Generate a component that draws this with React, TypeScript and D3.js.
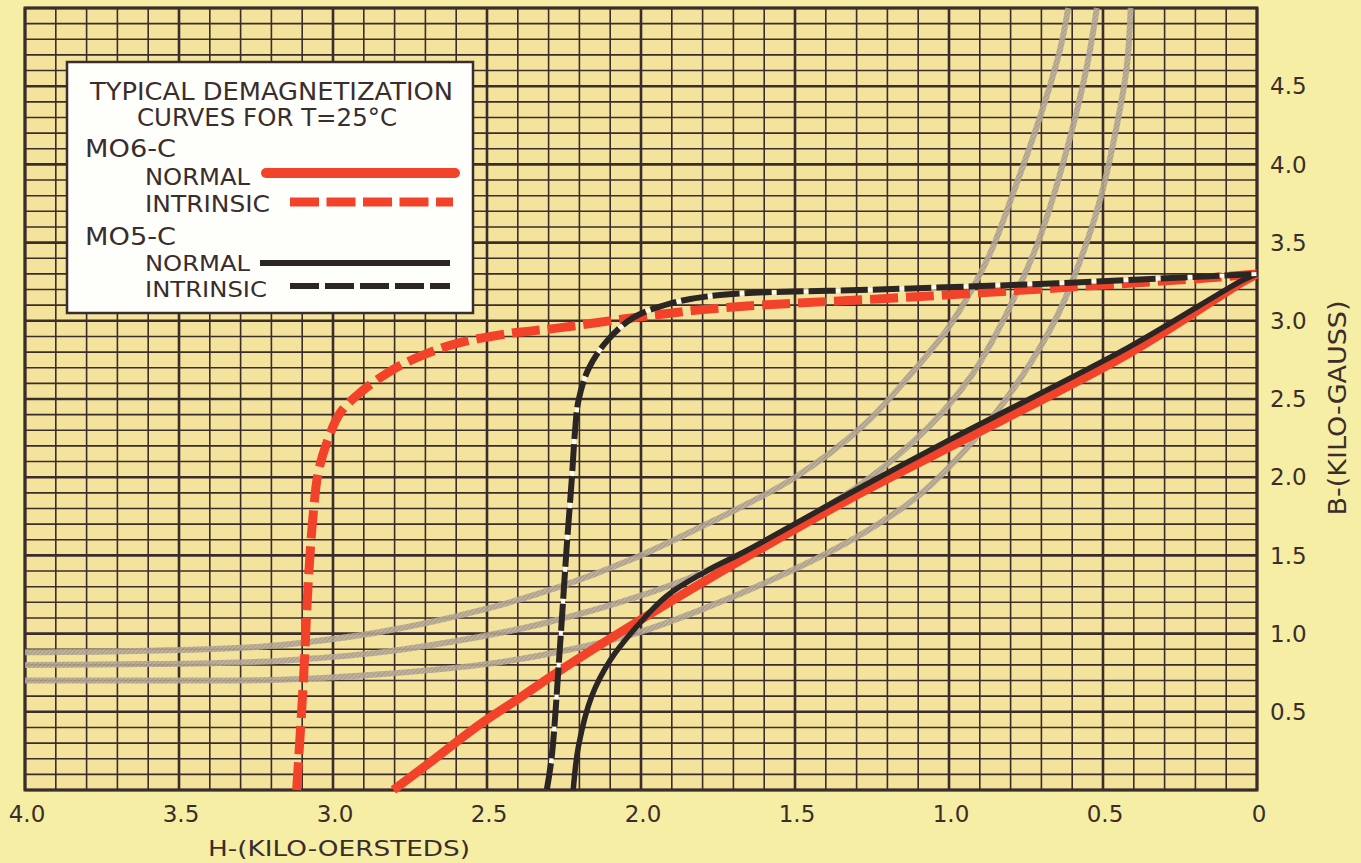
import React from "react";
import * as d3 from "d3";

// ---- Data (H in kilo-oersteds, B in kilo-gauss) ----
const xTickValues = [4.0, 3.5, 3.0, 2.5, 2.0, 1.5, 1.0, 0.5, 0];
const xTickLabels = ["4.0", "3.5", "3.0", "2.5", "2.0", "1.5", "1.0", "0.5", "0"];
const yTickValues = [0.5, 1.0, 1.5, 2.0, 2.5, 3.0, 3.5, 4.0, 4.5];
const yTickLabels = ["0.5", "1.0", "1.5", "2.0", "2.5", "3.0", "3.5", "4.0", "4.5"];

// M06-C normal
const m06Normal: [number, number][] = [
  [2.804, 0], [2.696, 0.16], [2.523, 0.42], [2.393, 0.59], [2.274, 0.75], [2.025, 1.06],
  [1.658, 1.49], [1.31, 1.875], [0.997, 2.195], [0.417, 2.79], [0.046, 3.25], [0, 3.3],
];
// M06-C intrinsic
const m06Intrinsic: [number, number][] = [
  [3.118, 0], [3.096, 0.7], [3.08, 1.34], [3.064, 1.77], [3.048, 2.03], [3.02, 2.22], [2.977, 2.41],
  [2.912, 2.54], [2.804, 2.69], [2.696, 2.79], [2.588, 2.86], [2.425, 2.92], [2.285, 2.95],
  [2.025, 3.02], [1.808, 3.07], [1.614, 3.1], [1.229, 3.14], [0.649, 3.21], [0.12, 3.28], [0, 3.3],
];
// M05-C normal
const m05Normal: [number, number][] = [
  [2.22, 0], [2.203, 0.28], [2.16, 0.6], [2.1, 0.83], [2.025, 1.02], [1.917, 1.24], [1.787, 1.4],
  [1.658, 1.53], [1.31, 1.91], [0.997, 2.24], [0.417, 2.83], [0.046, 3.26], [0, 3.3],
];
// M05-C intrinsic
const m05Intrinsic: [number, number][] = [
  [2.306, 0], [2.29, 0.21], [2.263, 0.92], [2.241, 1.56], [2.225, 1.98], [2.214, 2.3], [2.203, 2.49],
  [2.171, 2.69], [2.111, 2.87], [2.025, 3.02], [1.906, 3.11], [1.744, 3.165], [1.229, 3.2],
  [0.649, 3.24], [0, 3.3],
];
// grey energy-product curves
const energyOuter: [number, number][] = [
  [4.0, 0.88], [3.6, 0.89], [3.237, 0.916], [3.107, 0.94], [2.847, 1.01], [2.5, 1.16], [2.263, 1.3],
  [2.036, 1.47], [1.808, 1.68], [1.507, 1.99], [1.278, 2.33], [1.15, 2.6], [1.008, 2.94],
  [0.926, 3.2], [0.86, 3.46], [0.791, 3.82], [0.705, 4.3], [0.64, 4.73], [0.613, 5.0],
];
const energyMiddle: [number, number][] = [
  [4.0, 0.8], [3.6, 0.805], [3.237, 0.82], [3.107, 0.835], [2.847, 0.88], [2.523, 0.98], [2.328, 1.06],
  [2.036, 1.22], [1.808, 1.385], [1.514, 1.68], [1.289, 1.95], [1.062, 2.33], [0.927, 2.65],
  [0.83, 2.98], [0.76, 3.27], [0.7, 3.56], [0.618, 4.09], [0.553, 4.62], [0.52, 5.0],
];
const energyInner: [number, number][] = [
  [4.0, 0.7], [3.6, 0.7], [3.237, 0.702], [3.107, 0.71], [2.847, 0.74], [2.523, 0.8], [2.328, 0.86],
  [2.036, 0.99], [1.808, 1.15], [1.514, 1.4], [1.289, 1.63], [1.1, 1.88], [0.927, 2.22],
  [0.765, 2.64], [0.649, 3.03], [0.575, 3.38], [0.51, 3.77], [0.456, 4.24], [0.423, 4.62], [0.41, 5.0],
];

const W = 1361;
const HGT = 863;
const INK = "#3a2d2b";
const RED = "#f2432a";
const BLACK = "#2b2524";
const FONT = "'DejaVu Sans', 'Liberation Sans', sans-serif";

export default function App() {
  const x = d3.scaleLinear().domain([4, 0]).range([25, 1257]);
  const y = d3.scaleLinear().domain([0, 5]).range([790, 8]);
  const line = d3
    .line<[number, number]>()
    .x((d) => x(d[0]))
    .y((d) => y(d[1]))
    .curve(d3.curveCatmullRom.alpha(0.5));

  const vGrid = d3.range(0, 41).map((i) => ({ v: i / 10, major: i % 5 === 0 }));
  const hGrid = d3.range(0, 51).map((i) => ({ v: i / 10, major: i % 5 === 0 }));

  return (
    <div style={{ position: "fixed", left: 0, top: 0 }}>
      <svg width={W} height={HGT} style={{ display: "block" }}>
        <defs>
          <pattern id="hatch" width="3" height="3" patternUnits="userSpaceOnUse" patternTransform="rotate(45)">
            <rect width="3" height="3" fill="#b9ac9b" />
            <line x1="0" y1="0" x2="0" y2="3" stroke="#8f8272" strokeWidth="1.2" />
          </pattern>
        </defs>
        <rect x={0} y={0} width={W} height={HGT} fill="#f6eea4" />
        <rect x={x(4)} y={y(5)} width={x(0) - x(4)} height={y(0) - y(5)} fill="#f4e39c" />
        {/* grid */}
        <g>
          {vGrid.map((g, i) => (
            <line key={"v" + i} x1={x(g.v)} x2={x(g.v)} y1={y(0)} y2={y(5)} stroke={INK}
              strokeWidth={g.major ? 2.6 : 1.6} />
          ))}
          {hGrid.map((g, i) => (
            <line key={"h" + i} x1={x(4)} x2={x(0)} y1={y(g.v)} y2={y(g.v)} stroke={INK}
              strokeWidth={g.major ? 2.6 : 1.6} />
          ))}
          <rect x={x(4)} y={y(5)} width={x(0) - x(4)} height={y(0) - y(5)} fill="none" stroke={INK} strokeWidth={3} />
        </g>
        {/* energy product curves */}
        {[energyOuter, energyMiddle, energyInner].map((d, i) => (
          <path key={"e" + i} d={line(d) || ""} fill="none" stroke="url(#hatch)" strokeWidth={6} opacity={0.9} />
        ))}
        {/* M06-C */}
        <path d={line(m06Normal) || ""} fill="none" stroke={RED} strokeWidth={9} />
        <path d={line(m06Intrinsic) || ""} fill="none" stroke={RED} strokeWidth={9} strokeDasharray="28 8" />
        {/* M05-C */}
        <path d={line(m05Normal) || ""} fill="none" stroke={BLACK} strokeWidth={5.5} />
        <path d={line(m05Intrinsic) || ""} fill="none" stroke="#fffdf0" strokeWidth={4} />
        <path d={line(m05Intrinsic) || ""} fill="none" stroke={BLACK} strokeWidth={6} strokeDasharray="27 5" />

        {/* x ticks */}
        {xTickValues.map((v, i) => (
          <text key={"xt" + i} x={x(v) + 2} y={822} textAnchor="middle" fontFamily={FONT} fontSize={23} fill={INK}>
            {xTickLabels[i]}
          </text>
        ))}
        <text x={208} y={856} fontFamily={FONT} fontSize={22} fill={INK} textLength={262} lengthAdjust="spacingAndGlyphs">
          H-(KILO-OERSTEDS)
        </text>
        {/* y ticks */}
        {yTickValues.map((v, i) => (
          <text key={"yt" + i} x={1270} y={y(v)} dy="0.36em" fontFamily={FONT} fontSize={23} fill={INK}>
            {yTickLabels[i]}
          </text>
        ))}
        <text transform="translate(1346,408) rotate(-90)" textAnchor="middle" fontFamily={FONT} fontSize={24}
          fill={INK} textLength={215} lengthAdjust="spacingAndGlyphs">
          B-(KILO-GAUSS)
        </text>

        {/* legend */}
        <g>
          <rect x={67} y={62} width={406} height={251} fill="#fefefb" stroke={INK} strokeWidth={2.5} />
          <text x={90} y={100} fontFamily={FONT} fontSize={24} fill={INK} textLength={363} lengthAdjust="spacingAndGlyphs">
            TYPICAL DEMAGNETIZATION
          </text>
          <text x={137} y={126} fontFamily={FONT} fontSize={24} fill={INK} textLength={260} lengthAdjust="spacingAndGlyphs">
            CURVES FOR T=25°C
          </text>
          <text x={85} y={157} fontFamily={FONT} fontSize={24} fill={INK} textLength={91} lengthAdjust="spacingAndGlyphs">
            MO6-C
          </text>
          <text x={145} y={185} fontFamily={FONT} fontSize={23} fill={INK} textLength={105} lengthAdjust="spacingAndGlyphs">
            NORMAL
          </text>
          <text x={145} y={212} fontFamily={FONT} fontSize={23} fill={INK} textLength={125} lengthAdjust="spacingAndGlyphs">
            INTRINSIC
          </text>
          <text x={85} y={245} fontFamily={FONT} fontSize={24} fill={INK} textLength={91} lengthAdjust="spacingAndGlyphs">
            MO5-C
          </text>
          <text x={145} y={271} fontFamily={FONT} fontSize={22} fill={INK} textLength={105} lengthAdjust="spacingAndGlyphs">
            NORMAL
          </text>
          <text x={145} y={297} fontFamily={FONT} fontSize={22} fill={INK} textLength={122} lengthAdjust="spacingAndGlyphs">
            INTRINSIC
          </text>
          <line x1={266} x2={455} y1={173} y2={173} stroke={RED} strokeWidth={10} strokeLinecap="round" />
          <line x1={290} x2={453} y1={202} y2={202} stroke={RED} strokeWidth={9} strokeDasharray="29 7.5" />
          <line x1={260} x2={450} y1={263} y2={263} stroke={BLACK} strokeWidth={6} />
          <line x1={290} x2={450} y1={286} y2={286} stroke={BLACK} strokeWidth={6} strokeDasharray="29 6" />
        </g>
      </svg>
    </div>
  );
}
